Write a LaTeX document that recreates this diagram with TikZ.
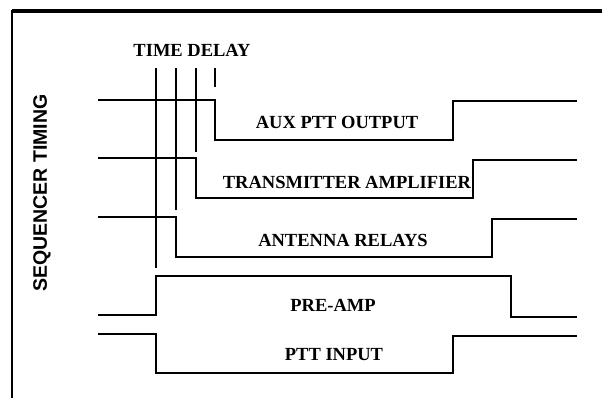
\documentclass[tikz,border=0pt]{standalone}
\usepackage{fontspec}
\setmainfont{Liberation Serif}
\setsansfont{Liberation Sans}
\begin{document}
\begin{tikzpicture}[x=1pt,y=-1pt,
  sig/.style={line width=1.8pt,line join=miter},
  delayline/.style={line width=1.6pt},
  lbl/.style={inner sep=0pt,font=\fontsize{18.5}{20}\selectfont\bfseries},
  sidelbl/.style={inner sep=0pt,rotate=90,font=\sffamily\fontsize{19.5}{20}\selectfont\bfseries}]
\useasboundingbox (0,0) rectangle (602,398);
% frame
\draw[line width=3.4pt] (12,11) -- (602,11);
\draw[line width=2.6pt] (12,10) -- (12,398);
% labels
\node[lbl] (td) at (192,50) {TIME DELAY};
\node[sidelbl] (seq) at (42,193) {SEQUENCER TIMING};
\node[lbl] (aux) at (337,122) {AUX PTT OUTPUT};
\node[lbl] (tx) at (347,182) {TRANSMITTER AMPLIFIER};
\node[lbl] (ant) at (343,240) {ANTENNA RELAYS};
\node[lbl] (pre) at (333,305) {PRE-AMP};
\node[lbl] (ptt) at (334,355) {PTT INPUT};
% time delay markers
\draw[delayline] (156,68) -- (156,268);
\draw[delayline] (176,68) -- (176,210);
\draw[delayline] (196,68) -- (196,152);
\draw[line width=1.2pt] (215,68) -- (215,87);
% signals
\draw[sig] (98,100) -- (215,100) -- (215,140) -- (453,140) -- (453,101) -- (577,101);
\draw[sig] (98,158) -- (196,158) -- (196,198) -- (473,198) -- (473,160) -- (577,160);
\draw[sig] (98,217) -- (176,217) -- (176,257) -- (492,257) -- (492,219) -- (577,219);
\draw[sig] (98,315) -- (156,315) -- (156,276) -- (511,276) -- (511,317) -- (577,317);
\draw[sig] (98,334) -- (156,334) -- (156,373) -- (453,373) -- (453,336) -- (577,336);
\end{tikzpicture}
\end{document}
